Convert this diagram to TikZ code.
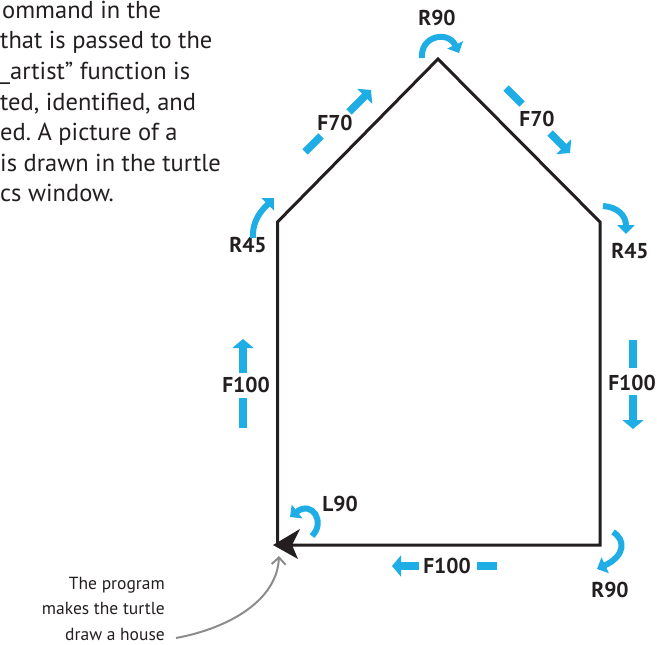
\documentclass[tikz,border=0pt]{standalone}
\usepackage{fontspec}
\setmainfont{PT Sans}
\usetikzlibrary{arrows.meta}
\definecolor{cy}{RGB}{30,174,229}
\definecolor{ink}{RGB}{35,31,32}
\definecolor{pointer}{RGB}{140,140,140}
\frenchspacing
\begin{document}
\begin{tikzpicture}[x=1pt,y=-1pt,
  wall/.style={line width=3pt, draw=ink, line join=miter},
  lbl/.style={font=\fontsize{21.5}{26}\selectfont\bfseries, text=ink, inner sep=0pt},
  body/.style={font=\fontsize{24.5}{30}\selectfont, text=ink, inner sep=0pt, anchor=base west},
  note/.style={font=\fontsize{17.5}{25}\selectfont, text=ink, inner sep=0pt, anchor=base east},
  dsh/.style={draw=cy, line width=7.5pt},
  arr/.style={draw=cy, line width=7.5pt, -{Triangle[width=21pt,length=9pt]}},
  carr/.style={draw=cy, line width=6pt, -{Triangle[width=17pt,length=9pt]}},
  ]
\useasboundingbox (0,0) rectangle (657,645);

% text block top-left
\node[body] (t1) at (2,18.3) {ommand in the};
\node[body] (t2) at (0,48.9) {that is passed to the};
\node[body] (t3) at (0,79.4) {\_artist” function is};
\node[body] (t4) at (0,110) {ted, identified, and};
\node[body] (t5) at (0,140.6) {ed. A picture of a};
\node[body] (t6) at (0,171.1) {is drawn in the turtle};
\node[body] (t7) at (0,201.7) {cs window.};

% house
\coordinate (BL) at (277.5,545);
\coordinate (L) at (277.5,222);
\coordinate (A) at (438,59);
\coordinate (R) at (600,222);
\coordinate (BR) at (600,545);
\draw[wall] (BL) -- (L) -- (A) -- (R) -- (BR) -- cycle;

% labels
\node[lbl] (r90t) at (437,18) {R90};
\node[lbl] (f70l) at (335,123) {F70};
\node[lbl] (f70r) at (537,119) {F70};
\node[lbl] (r45l) at (248,245) {R45};
\node[lbl] (r45r) at (630,251) {R45};
\node[lbl] (f100l) at (246,385) {F100};
\node[lbl] (f100r) at (632,383) {F100};
\node[lbl] (l90) at (340,504) {L90};
\node[lbl] (f100b) at (447,566) {F100};
\node[lbl] (r90b) at (610,590) {R90};

% straight moves
\draw[arr] (243,373) -- (243,339);
\draw[dsh] (243,398) -- (243,428);
\draw[dsh] (633,340) -- (633,368);
\draw[arr] (633,395) -- (633,429);
\draw[arr] (419,566) -- (392,566);
\draw[dsh] (477,566) -- (497,566);
\draw[dsh] (305,152) -- (321,136);
\draw[arr] (349,112) -- (371,90);
\draw[dsh] (506,88) -- (522,104);
\draw[arr] (550,133) -- (570,153);

% turns
\draw[carr] (422,58) .. controls (420,36) and (448,30) .. (459,53);
\draw[carr] (253,238) .. controls (252,220) and (262,210) .. (274,198);
\draw[carr] (603,206) .. controls (618,207) and (626,216) .. (626,234);
\draw[carr] (312,536) .. controls (326,522) and (312,500) .. (290,517);
\draw[carr] (613,532) .. controls (626,540) and (625,556) .. (597,569);

% turtle
\fill[ink] (273,545) -- (300,529) -- (292,545) -- (298,559) -- cycle;
\coordinate (turtle) at (279,556);

% note
\node[note] (n1) at (165,589) {The program};
\node[note] (n2) at (165,614.5) {makes the turtle};
\node[note] (n3) at (165,640) {draw a house};
\coordinate (nstart) at (176,638);
\draw[draw=pointer, line width=2pt, -{Straight Barb[length=7pt,width=14pt]}]
  (nstart) .. controls (230,628) and (277,600) .. (turtle);
\end{tikzpicture}
\end{document}
